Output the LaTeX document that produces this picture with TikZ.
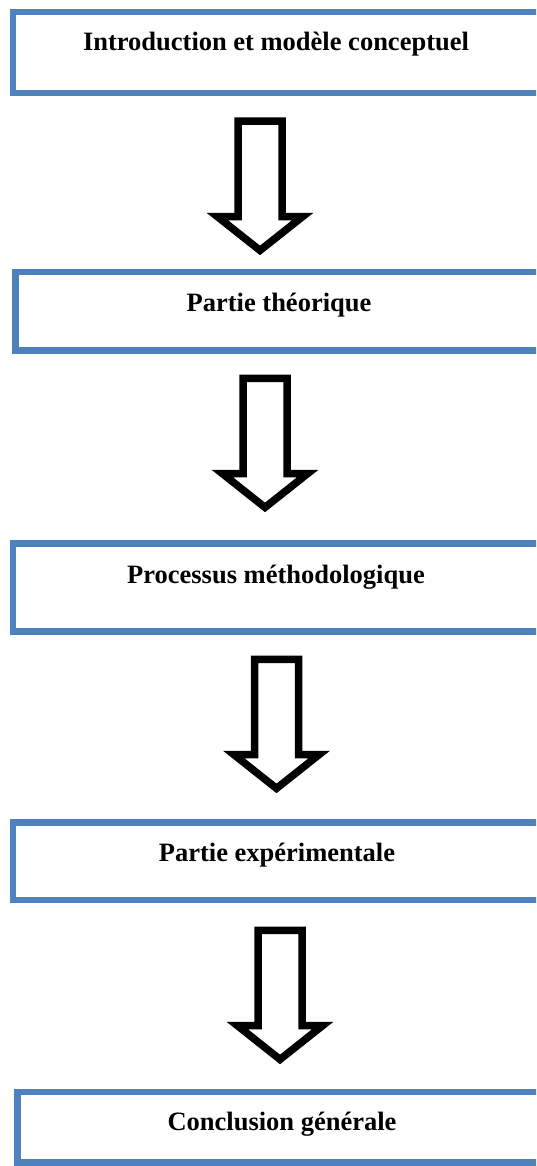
\documentclass[tikz,border=0pt]{standalone}
\usepackage{fontspec}
\setmainfont{Liberation Serif}
\definecolor{boxblue}{HTML}{4F81BD}
\begin{document}
\begin{tikzpicture}[x=1pt,y=-1pt,
  boxline/.style={draw=boxblue,line width=6.8pt,fill=white},
  lbl/.style={anchor=base,inner sep=0pt,font=\fontsize{26.5}{30}\selectfont\bfseries},
  blockarrow/.style={draw=black,fill=white,line width=7.5pt,line join=miter,miter limit=20}]
\useasboundingbox (0,0) rectangle (536,1166);
\clip (0,0) rectangle (536,1166);
% boxes
\draw[boxline] (13,12) rectangle (570,93);
\node[lbl] (t1) at (276,51) {Introduction et modèle conceptuel};
\draw[boxline] (15.4,272) rectangle (570,350.5);
\node[lbl] (t2) at (279,311) {Partie théorique};
\draw[boxline] (13,543.7) rectangle (570,631.5);
\node[lbl] (t3) at (276,583) {Processus méthodologique};
\draw[boxline] (13,822.5) rectangle (570,900);
\node[lbl] (t4) at (277,861) {Partie expérimentale};
\draw[boxline] (17.8,1092) rectangle (570,1162.8);
\node[lbl] (t5) at (282,1130) {Conclusion générale};
% top centres of the block arrows
\coordinate (a1) at (260,117.5);
\coordinate (a2) at (265,374.5);
\coordinate (a3) at (276.5,655.5);
\coordinate (a4) at (280,926.5);
\foreach \a in {a1,a2,a3,a4}{
  \draw[blockarrow,shift={(\a)}] (-22,3.75) -- (22,3.75) -- (22,99.2)
    -- (42.5,99.2) -- (0,132.9) -- (-42.5,99.2) -- (-22,99.2) -- cycle;
}
\end{tikzpicture}
\end{document}
